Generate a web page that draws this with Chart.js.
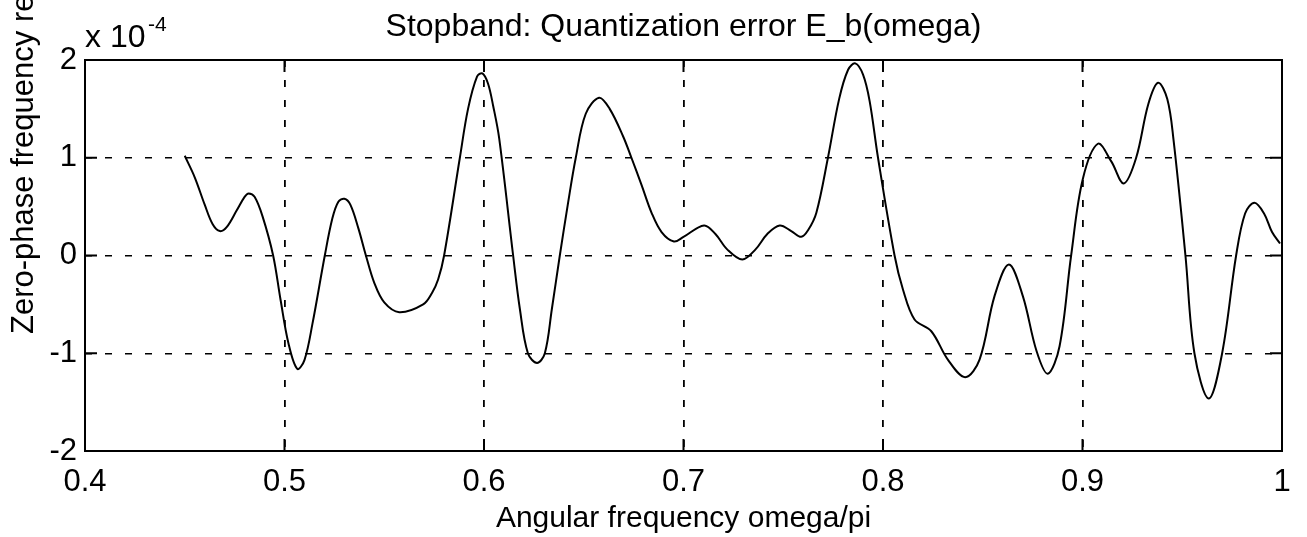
<!DOCTYPE html>
<html>
<head>
<meta charset="utf-8">
<script src="https://cdn.jsdelivr.net/npm/chart.js@4"></script>
<style>
  html, body { margin: 0; padding: 0; background: #fff; }
  #plot { display: block; }
</style>
</head>
<body>
<canvas id="plot" width="1307" height="537"></canvas>
<script>
// omega/pi samples
const omega = [
  0.450, 0.455, 0.460, 0.464, 0.4676, 0.471, 0.476, 0.480, 0.482, 0.485,
  0.489, 0.4943, 0.498, 0.502, 0.5064, 0.510, 0.514, 0.5202, 0.524, 0.527,
  0.530, 0.533, 0.537, 0.5408, 0.545, 0.550, 0.5575, 0.5695, 0.574, 0.577,
  0.580, 0.5879, 0.592, 0.5965, 0.5992, 0.602, 0.6046, 0.6076, 0.6146, 0.618,
  0.622, 0.6266, 0.6305, 0.634, 0.638, 0.642, 0.646, 0.651, 0.6577, 0.663,
  0.6697, 0.6739, 0.679, 0.684, 0.689, 0.6952, 0.700, 0.7103, 0.716, 0.722,
  0.7295, 0.736, 0.742, 0.7482, 0.754, 0.759, 0.7625, 0.7666, 0.7724, 0.778,
  0.7825, 0.7861, 0.790, 0.7933, 0.7975, 0.8058, 0.810, 0.8158, 0.8242, 0.8325,
  0.8412, 0.8484, 0.8559, 0.8631, 0.8701, 0.877, 0.8826, 0.8885, 0.8943, 0.9001,
  0.9077, 0.9145, 0.9207, 0.9269, 0.933, 0.9379, 0.9425, 0.9456, 0.9516, 0.9561,
  0.9633, 0.970, 0.977, 0.9815, 0.9862, 0.991, 0.995, 0.999
];

// E_b(omega), in units of 1e-4
const errorE4 = [
  1.02, 0.80, 0.52, 0.32, 0.25, 0.29, 0.46, 0.60, 0.635, 0.60,
  0.40, 0.0, -0.45, -0.90, -1.16, -1.07, -0.70, 0.0, 0.38, 0.55,
  0.58, 0.52, 0.28, 0.0, -0.28, -0.48, -0.58, -0.50, -0.38, -0.246,
  0.0, 1.0, 1.50, 1.83, 1.863, 1.76, 1.53, 1.20, 0.0, -0.55,
  -1.0, -1.10, -1.0, -0.55, 0.0, 0.52, 1.0, 1.45, 1.614, 1.50,
  1.22, 1.0, 0.72, 0.437, 0.24, 0.143, 0.19, 0.307, 0.22, 0.06,
  -0.041, 0.06, 0.22, 0.307, 0.25, 0.191, 0.26, 0.437, 1.0, 1.60,
  1.90, 1.965, 1.85, 1.58, 1.0, 0.0, -0.348, -0.655, -0.775, -1.065,
  -1.245, -1.065, -0.416, -0.092, -0.416, -0.98, -1.21, -0.928, 0.0, 0.778,
  1.143, 0.96, 0.737, 1.0, 1.55, 1.767, 1.60, 1.187, 0.0, -1.0,
  -1.464, -1.0, 0.0, 0.43, 0.539, 0.43, 0.24, 0.123
];

const xTicks = [0.4, 0.5, 0.6, 0.7, 0.8, 0.9, 1.0];
const yTicks = [-2, -1, 0, 1, 2];

const titleText = 'Stopband: Quantization error E_b(omega)';
const xLabel = 'Angular frequency omega/pi';
const yLabel = 'Zero-phase frequency response';

const FONT = '"Liberation Sans", Arial, Helvetica, sans-serif';

// box, inward ticks and the text MATLAB puts around the axes
const matlabAxes = {
  id: 'matlabAxes',
  afterDraw(chart) {
    const { ctx, chartArea: a, scales } = chart;
    ctx.save();
    ctx.strokeStyle = '#000';
    ctx.lineWidth = 2;
    ctx.strokeRect(a.left, a.top, a.right - a.left, a.bottom - a.top);

    ctx.beginPath();
    xTicks.forEach(v => {
      const px = scales.x.getPixelForValue(v);
      ctx.moveTo(px, a.bottom); ctx.lineTo(px, a.bottom - 12);
      ctx.moveTo(px, a.top); ctx.lineTo(px, a.top + 12);
    });
    yTicks.forEach(v => {
      const py = scales.y.getPixelForValue(v);
      ctx.moveTo(a.left, py); ctx.lineTo(a.left + 12, py);
      ctx.moveTo(a.right, py); ctx.lineTo(a.right - 12, py);
    });
    ctx.stroke();

    ctx.fillStyle = '#000';
    ctx.textBaseline = 'alphabetic';
    ctx.textAlign = 'center';
    ctx.font = '32px ' + FONT;
    ctx.fillText(titleText, (a.left + a.right) / 2, 36);
    ctx.font = '30px ' + FONT;
    ctx.fillText(xLabel, (a.left + a.right) / 2, 527);

    ctx.textAlign = 'left';
    ctx.font = '32px ' + FONT;
    ctx.fillText('x 10', a.left, 47);
    ctx.font = '21px ' + FONT;
    ctx.fillText('-4', a.left + 63, 31);

    ctx.font = '31px ' + FONT;
    ctx.translate(33, 334);
    ctx.rotate(-Math.PI / 2);
    ctx.fillText(yLabel, 0, 0);
    ctx.restore();
  }
};

new Chart(document.getElementById('plot'), {
  type: 'line',
  data: {
    datasets: [{
      data: omega.map((w, i) => ({ x: w, y: errorE4[i] })),
      borderColor: '#000',
      borderWidth: 2,
      pointRadius: 0,
      tension: 0.35,
      fill: false
    }]
  },
  options: {
    responsive: false,
    animation: false,
    layout: { padding: { top: 60, right: 25, left: 0, bottom: 0 } },
    plugins: { legend: { display: false }, tooltip: { enabled: false }, title: { display: false } },
    scales: {
      x: {
        type: 'linear',
        min: 0.4, max: 1.0,
        afterFit: s => { s.height = 86; },
        afterBuildTicks: s => { s.ticks = xTicks.map(v => ({ value: v })); },
        grid: { color: '#000', lineWidth: 1.8, drawTicks: false },
        border: { display: false, dash: [7, 13] },
        ticks: {
          color: '#000', padding: 13, maxRotation: 0,
          font: { family: FONT, size: 31 },
          callback: v => String(Number(v.toFixed(1)))
        }
      },
      y: {
        min: -2, max: 2,
        afterFit: s => { s.width = 85; },
        afterBuildTicks: s => { s.ticks = yTicks.map(v => ({ value: v })); },
        grid: { color: '#000', lineWidth: 1.5, drawTicks: false },
        border: { display: false, dash: [7, 13] },
        ticks: {
          color: '#000', padding: 8,
          font: { family: FONT, size: 31 },
          callback: v => String(v)
        }
      }
    }
  },
  plugins: [matlabAxes]
});
</script>
</body>
</html>
